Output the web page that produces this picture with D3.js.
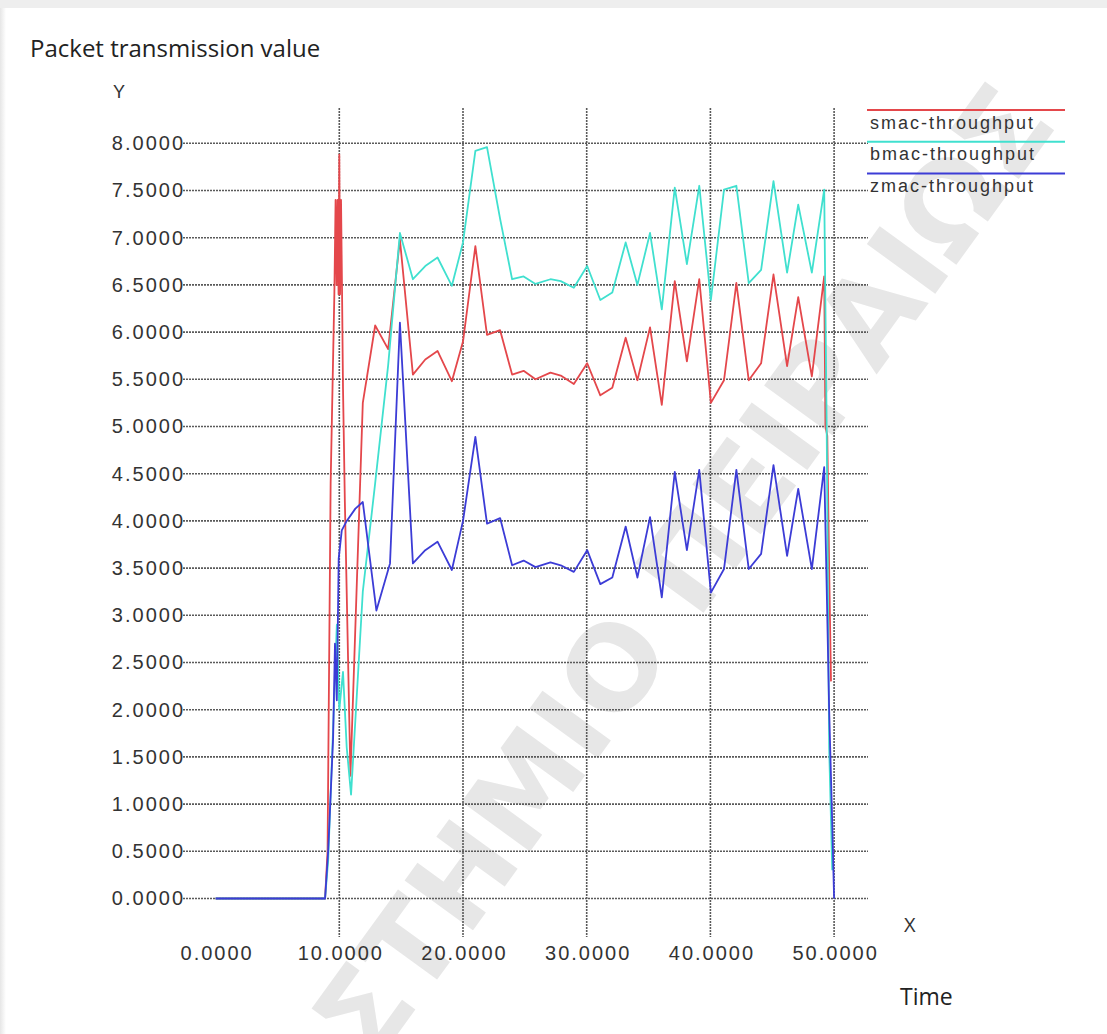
<!DOCTYPE html>
<html lang="en">
<head>
    <meta charset="UTF-8">
    <title>Packet transmission value</title>
    <script src="https://d3js.org/d3.v7.min.js"></script>
    <style>
        body { margin: 0; background: #fff; }
        .tick-label { font-family: "Liberation Sans", Arial, sans-serif; font-size: 20px; letter-spacing: 2px; fill: #333; }
        .legend-label { font-family: "Liberation Sans", Arial, sans-serif; font-size: 18px; letter-spacing: 2px; fill: #333; }
        .grid line { stroke: #5a5a5a; stroke-width: 1.6; stroke-dasharray: 2,1; }
        .series { fill: none; stroke-width: 1.8; stroke-linejoin: round; }
    </style>
</head>
<body>
<svg width="1107" height="1034"></svg>
<script>
    const width = 1107;
    const height = 1034;

    // tick values
    const xTicks = [0, 10, 20, 30, 40, 50];
    const yTicks = d3.range(0, 8.01, 0.5);

    // series (time, value)
    const smacX = [0, 8.85, 9.05, 9.3, 9.45, 9.6, 9.7, 9.78, 9.86, 9.94, 10.0, 10.06, 10.14, 10.22, 10.3, 10.45, 10.9,
        11.9, 12.9, 13.95, 14.9, 15.95, 16.95, 17.94, 19.1, 20.0, 21.0, 21.94, 23.0, 23.97, 24.9, 25.86, 27.07, 27.9,
        28.96, 30.04, 31.1, 32.07, 33.15, 34.1, 35.12, 36.07, 37.12, 38.1, 39.1, 40.04, 41.1, 42.1, 43.1, 44.1, 45.1,
        46.2, 47.1, 48.2, 49.2, 49.3, 49.45, 49.6, 49.75];
    const smacY = [0, 0, 0.5, 4.4, 5.4, 6.4, 7.4, 6.5, 7.4, 6.4, 7.88, 6.4, 7.4, 6.45, 5.4, 4.2, 1.3,
        5.25, 6.07, 5.82, 6.98, 5.55, 5.71, 5.80, 5.48, 5.9, 6.91, 5.97, 6.02, 5.55, 5.59, 5.50, 5.57, 5.54,
        5.45, 5.67, 5.33, 5.41, 5.94, 5.49, 6.05, 5.23, 6.54, 5.69, 6.56, 5.25, 5.49, 6.52, 5.49, 5.67, 6.61,
        5.64, 6.37, 5.53, 6.59, 5.0, 4.9, 3.5, 2.3];

    const bmacX = [0, 8.85, 9.1, 9.5, 9.8, 10.0, 10.3, 10.6, 10.95, 11.9, 12.9, 13.95, 14.9, 15.95, 16.95, 17.94,
        19.1, 20.0, 21.0, 21.94, 23.0, 23.97, 24.9, 25.86, 27.07, 27.9, 28.96, 30.04, 31.1, 32.07, 33.15, 34.1,
        35.12, 36.07, 37.12, 38.1, 39.1, 40.04, 41.1, 42.1, 43.1, 44.1, 45.1, 46.2, 47.1, 48.2, 49.2, 49.4, 49.6, 49.85];
    const bmacY = [0, 0, 0.4, 1.8, 2.9, 2.0, 2.4, 1.6, 1.1, 3.25, 4.4, 5.65, 7.05, 6.56, 6.70, 6.79,
        6.49, 6.95, 7.92, 7.96, 7.2, 6.56, 6.59, 6.51, 6.56, 6.54, 6.47, 6.70, 6.34, 6.42, 6.95, 6.50,
        7.05, 6.24, 7.53, 6.72, 7.55, 6.34, 7.51, 7.55, 6.52, 6.66, 7.60, 6.63, 7.35, 6.63, 7.51, 5.0, 1.6, 0.3];

    const zmacX = [0, 8.85, 9.1, 9.5, 9.65, 9.8, 9.95, 10.2, 10.6, 11.3, 11.9, 13.0, 14.1, 14.9, 15.95, 16.95,
        17.94, 19.1, 20.0, 21.0, 21.94, 23.0, 23.97, 24.9, 25.86, 27.07, 27.9, 28.96, 30.04, 31.1, 32.07, 33.15,
        34.1, 35.12, 36.07, 37.12, 38.1, 39.1, 40.04, 41.1, 42.1, 43.1, 44.1, 45.1, 46.2, 47.1, 48.2, 49.2,
        49.4, 49.6, 49.85, 50.0];
    const zmacY = [0, 0, 0.5, 1.7, 2.7, 2.1, 3.6, 3.9, 4.0, 4.13, 4.2, 3.05, 3.55, 6.1, 3.55, 3.69,
        3.78, 3.48, 4.0, 4.89, 3.97, 4.03, 3.53, 3.58, 3.51, 3.56, 3.53, 3.46, 3.69, 3.33, 3.40, 3.94,
        3.40, 4.04, 3.19, 4.52, 3.69, 4.54, 3.24, 3.49, 4.54, 3.49, 3.65, 4.59, 3.63, 4.34, 3.49, 4.57,
        3.3, 2.0, 0.8, 0];

    const seriesNames = ["smac-throughput", "bmac-throughput", "zmac-throughput"];
    const seriesColors = ["#e4474b", "#40e0cf", "#3c3cd6"];

    const series = [
        smacX.map((t, i) => [t, smacY[i]]),
        bmacX.map((t, i) => [t, bmacY[i]]),
        zmacX.map((t, i) => [t, zmacY[i]])
    ];

    const x = d3.scaleLinear().domain([0, 50]).range([215.6, 834.1]);
    const y = d3.scaleLinear().domain([0, 8]).range([898.5, 143.3]);

    const svg = d3.select("svg");

    // screenshot frame
    svg.append("rect").attr("width", width).attr("height", height).attr("fill", "#fff");
    const grad = svg.append("defs").append("linearGradient").attr("id", "edge");
    grad.append("stop").attr("offset", "0%").attr("stop-color", "#e6e6e6");
    grad.append("stop").attr("offset", "100%").attr("stop-color", "#fff");
    svg.append("rect").attr("width", 6).attr("height", height).attr("fill", "url(#edge)");
    svg.append("rect").attr("width", width).attr("height", 8).attr("fill", "#eeeeee");

    // watermark
    const wm = svg.append("g")
        .attr("transform", "translate(675,652) rotate(-54)")
        .attr("font-family", "'DejaVu Sans', sans-serif")
        .attr("font-weight", "bold")
        .attr("font-size", 116)
        .attr("fill", "#e7e7e7");
    wm.append("text").attr("text-anchor", "end").attr("x", 0).text("ΣΤΗΜΙΟ");
    wm.append("text").attr("text-anchor", "start").attr("x", 38).text("ΠΕΙΡΑΙΩΣ");

    // grid
    const grid = svg.append("g").attr("class", "grid");
    grid.selectAll(".h").data(yTicks).enter().append("line")
        .attr("x1", 183).attr("x2", 868)
        .attr("y1", d => y(d)).attr("y2", d => y(d));
    grid.selectAll(".v").data(xTicks.slice(1)).enter().append("line")
        .attr("x1", d => x(d)).attr("x2", d => x(d))
        .attr("y1", 108).attr("y2", 937);

    // axes (labels only)
    const yAxis = svg.append("g")
        .attr("transform", "translate(185,0)")
        .call(d3.axisLeft(y).tickValues(yTicks).tickFormat(d3.format(".4f")).tickSize(0).tickPadding(0));
    yAxis.select(".domain").remove();
    yAxis.selectAll("text").attr("class", "tick-label").attr("font-family", null).attr("font-size", null);

    const xAxis = svg.append("g")
        .attr("transform", "translate(1,946)")
        .call(d3.axisBottom(x).tickValues(xTicks).tickFormat(d3.format(".4f")).tickSize(0).tickPadding(0));
    xAxis.select(".domain").remove();
    xAxis.selectAll("text").attr("class", "tick-label");

    // series lines
    const line = d3.line().x(d => x(d[0])).y(d => y(d[1]));
    svg.selectAll(".series").data(series).enter().append("path")
        .attr("class", "series")
        .attr("d", line)
        .attr("stroke", (d, i) => seriesColors[i]);

    // legend
    const legend = svg.append("g").attr("transform", "translate(867,110)");
    seriesNames.forEach((name, i) => {
        legend.append("line")
            .attr("x1", 0).attr("x2", 198)
            .attr("y1", i * 31.7).attr("y2", i * 31.7)
            .attr("stroke", seriesColors[i]).attr("stroke-width", 2);
        legend.append("text")
            .attr("class", "legend-label")
            .attr("x", 3).attr("y", i * 31.7 + 18.5)
            .text(name);
    });

    // titles
    svg.append("text").attr("x", 30).attr("y", 57)
        .attr("font-family", "'Open Sans', sans-serif").attr("font-size", 24).attr("fill", "#222")
        .text("Packet transmission value");
    svg.append("text").attr("x", 113).attr("y", 98)
        .attr("font-family", "'Liberation Sans', sans-serif").attr("font-size", 18).attr("fill", "#333")
        .text("Y");
    svg.append("text").attr("x", 904).attr("y", 932)
        .attr("font-family", "'Open Sans', sans-serif").attr("font-size", 20).attr("fill", "#333")
        .text("X");
    svg.append("text").attr("x", 900).attr("y", 1005)
        .attr("font-family", "'Open Sans', sans-serif").attr("font-size", 23).attr("fill", "#222")
        .text("Time");
</script>
</body>
</html>
